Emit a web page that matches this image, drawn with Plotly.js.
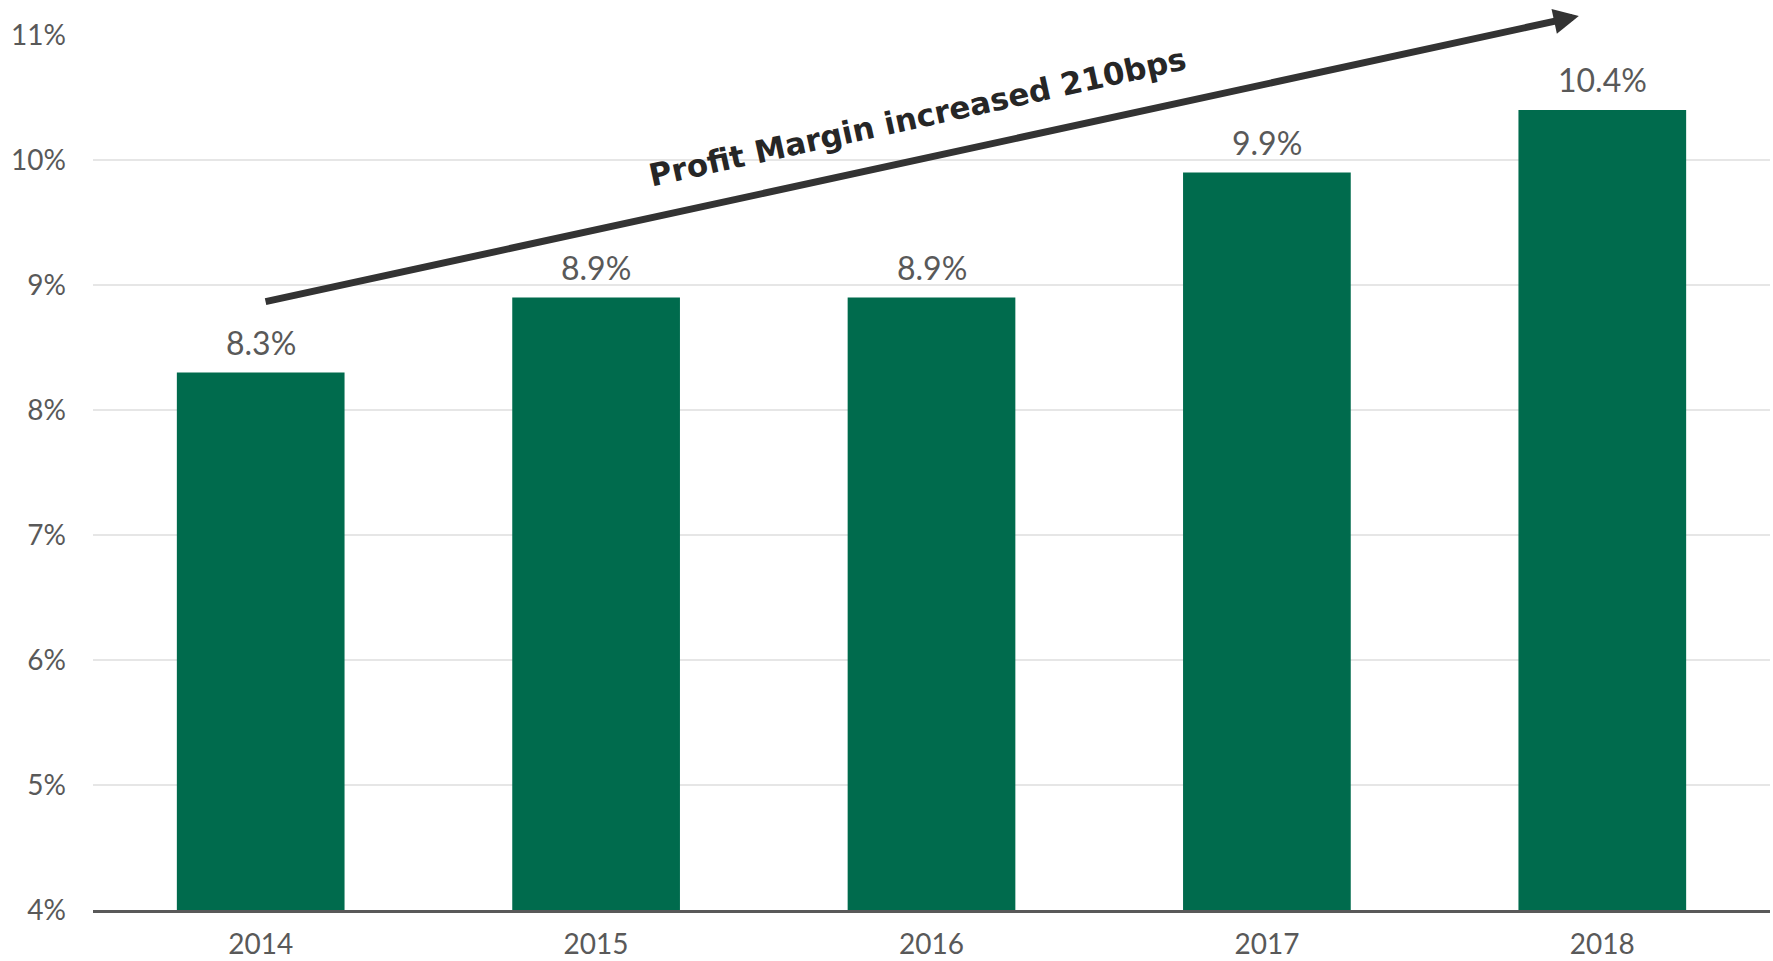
<!DOCTYPE html>
<html>
<head>
<meta charset="utf-8">
<script src="https://cdn.plot.ly/plotly-3.0.1.min.js"></script>
<style>
  html, body { margin: 0; padding: 0; background: #ffffff; }
  #chart { width: 1773px; height: 961px; }
</style>
</head>
<body>
<div id="chart"></div>
<script>
// ---- data ----
const years = ['2014', '2015', '2016', '2017', '2018'];
const profitMargin = [8.3, 8.9, 8.9, 9.9, 10.4];
const yTickValues = [4, 5, 6, 7, 8, 9, 10, 11];
const calloutText = 'Profit Margin increased 210bps';

const barColor = '#006B4D';
const labelColor = '#595959';
const baseFont = 'Lato, "Open Sans", "DejaVu Sans", sans-serif';

const trace = {
  type: 'bar',
  x: years,
  y: profitMargin,
  marker: { color: barColor },
  hoverinfo: 'skip'
};

const labelAnnotations = profitMargin.map((v, i) => ({
  x: i,
  y: v,
  xref: 'x',
  yref: 'y',
  text: v.toFixed(1) + '%',
  showarrow: false,
  yanchor: 'bottom',
  yshift: 9,
  font: { family: baseFont, size: 32, color: labelColor }
}));

const arrowAnnotation = {
  xref: 'x', yref: 'y', axref: 'x', ayref: 'y',
  x: 3.93, y: 11.152,
  ax: 0.01, ay: 8.864,
  text: '',
  showarrow: true,
  arrowhead: 2,
  arrowsize: 0.72,
  arrowwidth: 7,
  arrowcolor: '#333333'
};

const calloutAnnotation = {
  xref: 'paper', yref: 'paper',
  x: (917 - 93) / (1770 - 93),
  y: (910 - 117) / (910 - 35),
  text: '<b>' + calloutText + '</b>',
  showarrow: false,
  textangle: -12.4,
  xanchor: 'center', yanchor: 'middle',
  font: { family: '"DejaVu Sans", sans-serif', size: 31, color: '#262626' }
};

const layout = {
  width: 1773,
  height: 961,
  margin: { l: 93, r: 3, t: 35, b: 51 },
  paper_bgcolor: '#ffffff',
  plot_bgcolor: '#ffffff',
  showlegend: false,
  bargap: 0.5,
  font: { family: baseFont, color: labelColor },
  xaxis: {
    type: 'category',
    tickvals: years,
    ticktext: years,
    showgrid: false,
    showline: true,
    linecolor: '#595959',
    linewidth: 2.5,
    ticks: '',
    ticklabelstandoff: 8,
    tickfont: { family: baseFont, size: 28, color: labelColor },
    fixedrange: true
  },
  yaxis: {
    range: [4, 11],
    tickvals: yTickValues,
    ticktext: yTickValues.map(v => v + '%'),
    showgrid: true,
    gridcolor: '#E6E6E6',
    gridwidth: 2,
    zeroline: false,
    showline: false,
    ticks: '',
    ticklabelstandoff: 26,
    tickfont: { family: baseFont, size: 28, color: labelColor },
    fixedrange: true
  },
  annotations: [arrowAnnotation, calloutAnnotation].concat(labelAnnotations)
};

Plotly.newPlot('chart', [trace], layout, { displayModeBar: false, staticPlot: true });
</script>
</body>
</html>
